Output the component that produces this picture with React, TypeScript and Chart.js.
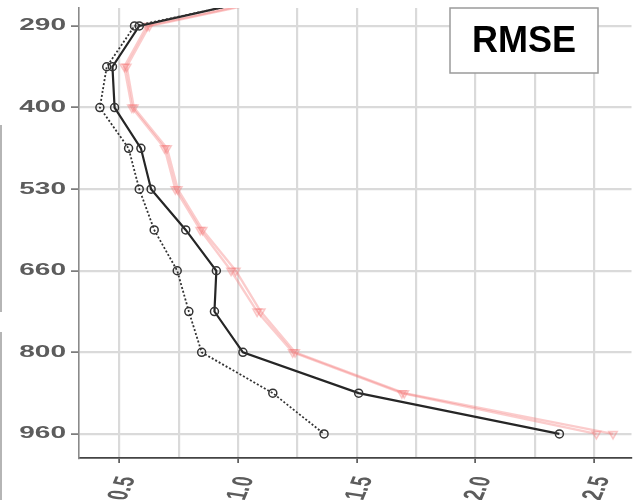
import React, { useEffect, useRef } from "react";
import { Chart, registerables } from "chart.js";

Chart.register(...registerables);

// Vertical levels (index positions, top to bottom); -1 is a level just above the visible window
const levelIndex = [-1, 0, 1, 2, 3, 4, 5, 6, 7, 8, 9, 10];
const yTickIndex = [0, 2, 4, 6, 8, 10];
const yTickLabels = ["290", "400", "530", "660", "800", "960"];
const xTickValues = [0.5, 1.0, 1.5, 2.0, 2.5];
const xTickLabels = ["0.5", "1.0", "1.5", "2.0", "2.5"];
const xGridValues = [0.5, 0.75, 1.0, 1.25, 1.5, 1.75, 2.0, 2.25, 2.5];

// RMSE values per level
const blackDotted = [1.38, 0.563, 0.446, 0.417, 0.538, 0.583, 0.646, 0.743, 0.792, 0.846, 1.146, 1.362];
const blackSolid = [1.35, 0.583, 0.47, 0.479, 0.59, 0.633, 0.779, 0.908, 0.9, 1.02, 1.508, 2.354];
const pinkA = [1.42, 0.615, 0.52, 0.552, 0.69, 0.735, 0.84, 0.97, 1.08, 1.23, 1.69, 2.51];
const pinkB = [1.44, 0.625, 0.53, 0.56, 0.7, 0.745, 0.85, 0.99, 1.095, 1.24, 1.7, 2.58];

const panelTitle = "RMSE";

const toPoints = (vals: number[]) => vals.map((v, i) => ({ x: v, y: levelIndex[i] }));

const STRETCH = 1.7;

const labelPlugin = {
  id: "stretchedLabels",
  afterDraw(chart: any) {
    const ctx = chart.ctx;
    const xs = chart.scales.x;
    const ys = chart.scales.y;
    ctx.save();
    // left-edge decorative rules (neighbouring panel edge)
    ctx.fillStyle = "#b5b5b5";
    ctx.fillRect(0, 125, 2, 187);
    ctx.fillRect(0, 332, 2, 168);

    ctx.fillStyle = "#5c5c5c";
    ctx.font = "bold 16.5px 'Liberation Sans', Arial, sans-serif";
    // y tick labels
    yTickIndex.forEach((v, i) => {
      const py = ys.getPixelForValue(v);
      ctx.save();
      ctx.translate(ys.right - 13, py);
      ctx.scale(STRETCH, 1);
      ctx.textAlign = "right";
      ctx.textBaseline = "middle";
      ctx.fillText(yTickLabels[i], 0, 0);
      ctx.restore();
    });
    // x tick labels (rotated)
    ctx.font = "bold 17px 'Liberation Sans', Arial, sans-serif";
    xTickValues.forEach((v, i) => {
      const px = xs.getPixelForValue(v);
      ctx.save();
      ctx.translate(px + 8, xs.top + 19);
      ctx.scale(STRETCH, 1);
      ctx.rotate((-76 * Math.PI) / 180);
      ctx.textAlign = "right";
      ctx.textBaseline = "middle";
      ctx.fillText(xTickLabels[i], 0, 0);
      ctx.restore();
    });

    // panel label box
    ctx.fillStyle = "#ffffff";
    ctx.fillRect(450, 8, 148, 65);
    ctx.strokeStyle = "#9a9a9a";
    ctx.lineWidth = 1.5;
    ctx.strokeRect(450, 8, 148, 65);
    ctx.fillStyle = "#000000";
    ctx.font = "bold 36px 'Liberation Sans', Arial, sans-serif";
    ctx.textAlign = "center";
    ctx.textBaseline = "middle";
    ctx.fillText(panelTitle, 524, 42);
    ctx.restore();
  },
};

const isMajor = (v: number) => Math.abs(v * 2 - Math.round(v * 2)) < 1e-6;

export default function App() {
  const ref = useRef<HTMLCanvasElement | null>(null);
  useEffect(() => {
    if (!ref.current) return;
    const pink = "rgba(244,120,120,0.38)";
    const chart = new Chart(ref.current, {
      type: "line",
      data: {
        datasets: [
          {
            label: "dotted",
            data: toPoints(blackDotted),
            borderColor: "#333333",
            borderWidth: 1.8,
            borderDash: [2, 2],
            pointStyle: "circle",
            pointRadius: 4,
            pointBorderWidth: 1.5,
            pointBorderColor: "#333333",
            pointBackgroundColor: "rgba(255,255,255,0)",
            tension: 0,
            order: 0,
          },
          {
            label: "solid",
            data: toPoints(blackSolid),
            borderColor: "#262626",
            borderWidth: 2.2,
            pointStyle: "circle",
            pointRadius: 4,
            pointBorderWidth: 1.5,
            pointBorderColor: "#333333",
            pointBackgroundColor: "rgba(255,255,255,0)",
            tension: 0,
            order: 0,
          },
          {
            label: "pinkA",
            data: toPoints(pinkA),
            borderColor: pink,
            borderWidth: 2.4,
            pointStyle: "triangle",
            rotation: 180,
            pointRadius: 5,
            pointBorderWidth: 1.5,
            pointBorderColor: pink,
            pointBackgroundColor: "rgba(244,120,120,0.15)",
            tension: 0,
            order: 1,
          },
          {
            label: "pinkB",
            data: toPoints(pinkB),
            borderColor: pink,
            borderWidth: 2.4,
            pointStyle: "triangle",
            rotation: 180,
            pointRadius: 5,
            pointBorderWidth: 1.5,
            pointBorderColor: pink,
            pointBackgroundColor: "rgba(244,120,120,0.15)",
            tension: 0,
            order: 1,
          },
        ],
      },
      options: {
        animation: false,
        responsive: false,
        maintainAspectRatio: false,
        layout: { padding: { top: 8, left: 0, right: 0, bottom: 0 } },
        plugins: { legend: { display: false }, tooltip: { enabled: false } },
        scales: {
          x: {
            type: "linear",
            min: 0.329,
            max: 2.658,
            afterBuildTicks: (s: any) => {
              s.ticks = xGridValues.map((v) => ({ value: v }));
            },
            afterFit: (s: any) => {
              s.height = 42;
            },
            ticks: { display: false },
            grid: {
              display: true,
              drawOnChartArea: true,
              color: "#dadada",
              lineWidth: 2.2,
              drawTicks: true,
              tickLength: 5,
              tickWidth: 1.5,
              tickColor: (c: any) => (c.tick && isMajor(c.tick.value) ? "#444444" : "rgba(0,0,0,0)"),
            },
            border: { display: true, color: "#444444", width: 1.8 },
          },
          y: {
            type: "linear",
            reverse: true,
            min: -0.44,
            max: 10.59,
            afterBuildTicks: (s: any) => {
              s.ticks = yTickIndex.map((v) => ({ value: v }));
            },
            afterFit: (s: any) => {
              s.width = 79;
            },
            ticks: { display: false },
            grid: {
              display: true,
              drawOnChartArea: true,
              color: "#dadada",
              lineWidth: 2.2,
              drawTicks: true,
              tickLength: 8,
              tickWidth: 1.5,
              tickColor: "#666666",
            },
            border: { display: true, color: "#8a8a8a", width: 1.6 },
          },
        },
      },
      plugins: [labelPlugin],
    });
    return () => chart.destroy();
  }, []);
  return (
    <div style={{ position: "fixed", left: 0, top: 0, width: 638, height: 500, background: "#ffffff" }}>
      <canvas ref={ref} width={638} height={500} style={{ display: "block" }} />
    </div>
  );
}
